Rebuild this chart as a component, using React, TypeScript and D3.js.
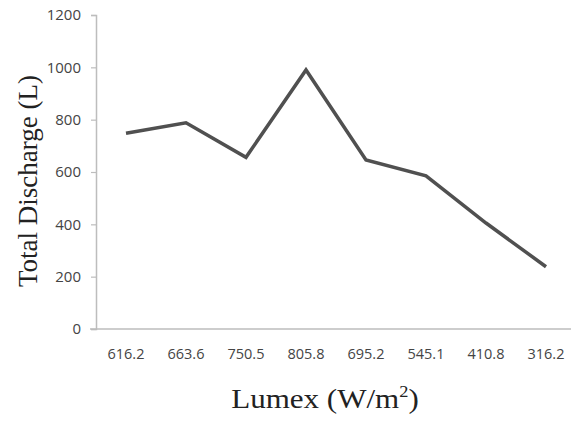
import React, { useEffect, useRef } from 'react';
import * as d3 from 'd3';

const lumex = ['616.2', '663.6', '750.5', '805.8', '695.2', '545.1', '410.8', '316.2'];
const discharge = [748, 788, 656, 990, 646, 585, 405, 238];
const yTicks = [0, 200, 400, 600, 800, 1000, 1200];

const App = () => {
  const svgRef = useRef<SVGSVGElement>(null);

  useEffect(() => {
    const svg = d3.select(svgRef.current);
    svg.selectAll('*').remove();

    const left = 96;
    const top = 15;
    const bottom = 329;
    const right = 576;

    const x = d3.scaleBand().domain(lumex).range([left, right]);
    const y = d3.scaleLinear().domain([0, 1200]).range([bottom, top]);

    // y axis
    const yAxis = svg.append('g')
      .attr('transform', `translate(${left},0)`)
      .call(d3.axisLeft(y).tickValues(yTicks).tickSize(5).tickPadding(10).tickFormat(d3.format('d')));
    yAxis.select('.domain').attr('stroke', '#bdbdbd').attr('stroke-width', 1.5);
    yAxis.selectAll('.tick line').attr('stroke', '#bdbdbd').attr('stroke-width', 1.2);
    yAxis.selectAll('text')
      .style('font-family', 'Open Sans, sans-serif')
      .style('font-size', '15px')
      .style('fill', '#444');

    // x axis line
    svg.append('line')
      .attr('x1', left - 6)
      .attr('x2', 571)
      .attr('y1', bottom)
      .attr('y2', bottom)
      .attr('stroke', '#bdbdbd')
      .attr('stroke-width', 1.5);

    // x tick labels
    svg.append('g')
      .selectAll('text')
      .data(lumex)
      .enter()
      .append('text')
      .attr('x', d => (x(d) as number) + x.bandwidth() / 2)
      .attr('y', 359)
      .attr('text-anchor', 'middle')
      .style('font-family', 'Open Sans, sans-serif')
      .style('font-size', '14.5px')
      .style('fill', '#444')
      .text(d => d);

    // line
    const line = d3.line<number>()
      .x((d, i) => (x(lumex[i]) as number) + x.bandwidth() / 2)
      .y(d => y(d));

    svg.append('path')
      .datum(discharge)
      .attr('fill', 'none')
      .attr('stroke', '#505050')
      .attr('stroke-width', 3.5)
      .attr('stroke-linejoin', 'miter')
      .attr('d', line);

    // axis titles
    svg.append('text')
      .attr('transform', 'translate(37,181) rotate(-90)')
      .attr('text-anchor', 'middle')
      .style('font-family', 'Liberation Serif, Times New Roman, serif')
      .style('font-size', '27px')
      .style('fill', '#222')
      .text('Total Discharge (L)');

    const xt = svg.append('text')
      .attr('transform', 'translate(325,408) scale(1.15,1)')
      .attr('text-anchor', 'middle')
      .style('font-family', 'Liberation Serif, Times New Roman, serif')
      .style('font-size', '27px')
      .style('fill', '#222');
    xt.append('tspan').text('Lumex (W/m');
    xt.append('tspan').attr('dy', -11).style('font-size', '16px').text('2');
    xt.append('tspan').attr('dy', 11).text(')');
  }, []);

  return <svg ref={svgRef} width={571} height={421} style={{ position: 'absolute', left: 0, top: 0, background: '#fff' }} />;
};

export default App;
